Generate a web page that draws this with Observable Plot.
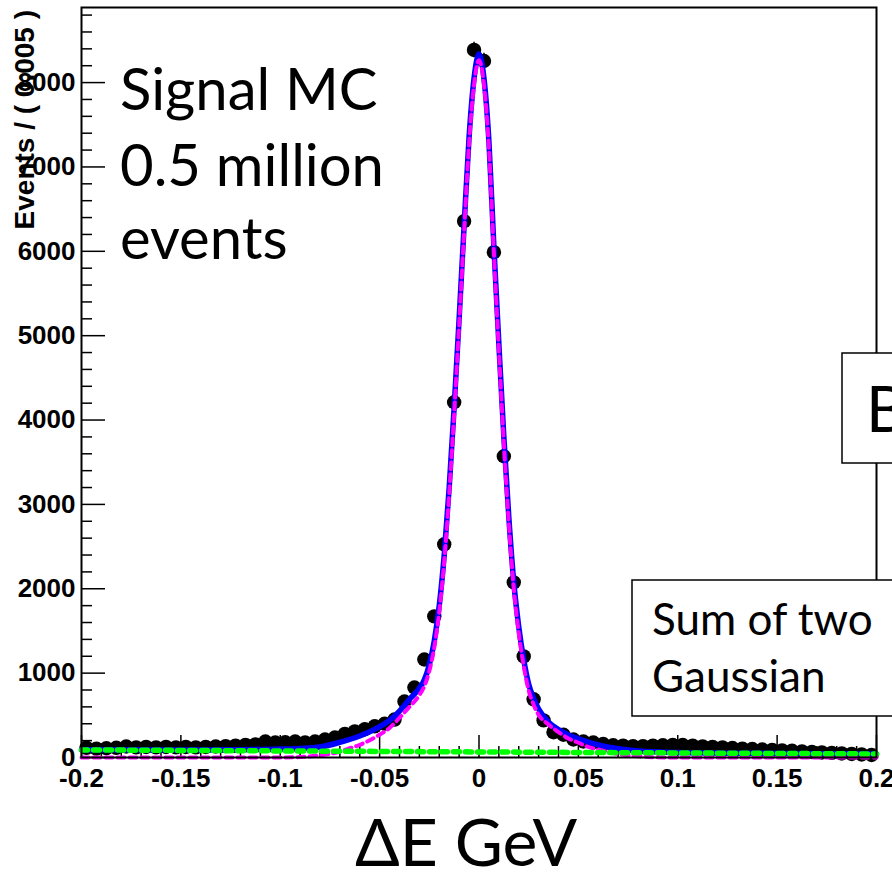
<!DOCTYPE html>
<html>
<head>
<meta charset="utf-8">
<script src="https://cdn.jsdelivr.net/npm/d3@7"></script>
<script src="https://cdn.jsdelivr.net/npm/@observablehq/plot@0.6"></script>
<style>
  html, body { margin: 0; padding: 0; background: #fff; }
  #wrap { position: relative; width: 892px; height: 872px; overflow: hidden; background: #fff; }
  #overlay { position: absolute; left: 0; top: 0; pointer-events: none; }
</style>
</head>
<body>
<div id="wrap">
  <div id="chart"></div>
  <svg id="overlay" width="892" height="872" xmlns="http://www.w3.org/2000/svg">
    <text x="34" y="10" transform="rotate(-90 34 10)" text-anchor="end" font-family="Liberation Sans, Arial, sans-serif" font-weight="bold" font-size="28" fill="#000">Events / ( 0.005 )</text>
    <text x="120" y="110" font-family="Lato, sans-serif" font-size="58" fill="#000">Signal MC</text>
    <text x="120" y="186" font-family="Lato, sans-serif" font-size="58" fill="#000">0.5 million</text>
    <text x="120" y="259" font-family="Lato, sans-serif" font-size="58" fill="#000">events</text>
    <text x="355" y="866" font-family="Lato, sans-serif" font-size="66" fill="#000">ΔE GeV</text>
    <rect x="842" y="353" width="70" height="110" fill="#fff" stroke="#000" stroke-width="1.5"></rect>
    <text x="866" y="432" font-family="Lato, sans-serif" font-size="63" fill="#000">B</text>
    <rect x="632" y="580" width="280" height="136" fill="#fff" stroke="#000" stroke-width="1.5"></rect>
    <text x="652" y="635" font-family="Lato, sans-serif" font-size="44" fill="#000">Sum of two</text>
    <text x="652" y="692" font-family="Lato, sans-serif" font-size="44" fill="#000">Gaussian</text>
  </svg>
</div>
<script>
// ---- Data ----
const binCenters = [
  -0.1975,-0.1925,-0.1875,-0.1825,-0.1775,-0.1725,-0.1675,-0.1625,-0.1575,-0.1525,
  -0.1475,-0.1425,-0.1375,-0.1325,-0.1275,-0.1225,-0.1175,-0.1125,-0.1075,-0.1025,
  -0.0975,-0.0925,-0.0875,-0.0825,-0.0775,-0.0725,-0.0675,-0.0625,-0.0575,-0.0525,
  -0.0475,-0.0425,-0.0375,-0.0325,-0.0275,-0.0225,-0.0175,-0.0125,-0.0075,-0.0025,
   0.0025, 0.0075, 0.0125, 0.0175, 0.0225, 0.0275, 0.0325, 0.0375, 0.0425, 0.0475,
   0.0525, 0.0575, 0.0625, 0.0675, 0.0725, 0.0775, 0.0825, 0.0875, 0.0925, 0.0975,
   0.1025, 0.1075, 0.1125, 0.1175, 0.1225, 0.1275, 0.1325, 0.1375, 0.1425, 0.1475,
   0.1525, 0.1575, 0.1625, 0.1675, 0.1725, 0.1775, 0.1825, 0.1875, 0.1925, 0.1975
];
const binCounts = [
  115,105,110,115,130,120,125,120,125,120,
  125,120,125,130,135,140,150,155,190,178,
  180,190,178,190,213,237,280,310,335,370,
  400,450,664,830,1162,1673,2527,4211,6358,8387,
  8256,5990,3571,2076,1198,690,440,300,270,213,
  190,178,160,145,140,135,135,140,145,150,
  148,140,132,125,120,112,105,100,95,90,
  85,80,72,65,60,55,48,42,36,30
];

// Total fit (blue, solid)
const totalFitX = [-0.2,-0.15,-0.12,-0.1,-0.09,-0.08,-0.07,-0.06,-0.055,-0.05,-0.045,-0.04,-0.035,-0.03,-0.0275,-0.025,-0.0225,-0.02,-0.0175,-0.015,-0.0125,-0.01,-0.0075,-0.005,-0.0025,0,
  0.0025,0.005,0.0075,0.01,0.0125,0.015,0.0175,0.02,0.0225,0.025,0.0275,0.03,0.035,0.04,0.045,0.05,0.06,0.07,0.08,0.1,0.15,0.2];
const totalFitY = [92,88,92,100,108,125,180,255,305,365,440,550,690,820,920,1100,1380,1800,2400,3200,4150,5200,6300,7350,8050,8340,
  8050,7300,6050,4900,3800,2850,2080,1550,1160,870,700,575,420,330,268,222,150,105,78,60,48,42];

// Signal component: sum of two Gaussians (magenta, dashed)
const signalX = [-0.2,-0.1,-0.09,-0.08,-0.07,-0.065,-0.06,-0.055,-0.05,-0.045,-0.04,-0.035,-0.03,-0.0275,-0.025,-0.0225,-0.02,-0.0175,-0.015,-0.0125,-0.01,-0.0075,-0.005,-0.0025,0,
  0.0025,0.005,0.0075,0.01,0.0125,0.015,0.0175,0.02,0.0225,0.025,0.0275,0.03,0.035,0.04,0.045,0.05,0.055,0.06,0.07,0.08,0.09,0.1,0.2];
const signalY = [0,0,5,25,70,110,150,205,270,350,470,600,740,845,1025,1305,1725,2325,3125,4075,5125,6225,7275,7975,8265,
  7975,7225,5975,4825,3725,2775,2005,1475,1085,795,625,505,390,300,225,175,125,95,42,15,2,0,0];

// Background component (green, dotted)
const bkgX = [-0.2, 0.2];
const bkgY = [90, 42];

const xMajorTicks = [-0.2,-0.15,-0.1,-0.05,0,0.05,0.1,0.15,0.2];
const xTickLabels = ["-0.2","-0.15","-0.1","-0.05","0","0.05","0.1","0.15","0.2"];
const xMinorTicks = [-0.19,-0.18,-0.17,-0.16,-0.14,-0.13,-0.12,-0.11,-0.09,-0.08,-0.07,-0.06,-0.04,-0.03,-0.02,-0.01,
  0.01,0.02,0.03,0.04,0.06,0.07,0.08,0.09,0.11,0.12,0.13,0.14,0.16,0.17,0.18,0.19];
const yMajorTicks = [0,1000,2000,3000,4000,5000,6000,7000,8000];
const yMinorTicks = [200,400,600,800,1200,1400,1600,1800,2200,2400,2600,2800,3200,3400,3600,3800,4200,4400,4600,4800,
  5200,5400,5600,5800,6200,6400,6600,6800,7200,7400,7600,7800,8200,8400,8600,8800];

// ---- Build tables ----
const points = binCenters.map((x, i) => ({x, y: binCounts[i]}));
const totalFit = totalFitX.map((x, i) => ({x, y: totalFitY[i]}));
const signal = signalX.map((x, i) => ({x, y: signalY[i]}));
const bkg = bkgX.map((x, i) => ({x, y: bkgY[i]}));

const W = 892, H = 872;
const mL = 81, mR = 16, mT = 7, mB = 115;
const frameW = W - mL - mR, frameH = H - mT - mB;
const tickFont = "Liberation Sans, Arial, Helvetica, sans-serif";

const chart = Plot.plot({
  width: W,
  height: H,
  marginLeft: mL,
  marginRight: mR,
  marginTop: mT,
  marginBottom: mB,
  style: {fontFamily: tickFont, fontSize: "26px", fontWeight: "bold", background: "#fff", color: "#000", overflow: "visible"},
  x: {domain: [-0.2, 0.2]},
  y: {domain: [0, 8890]},
  marks: [
    // ticks (inward, ROOT style)
    Plot.tickX(xMajorTicks, {x: d => d, insetTop: frameH - 22, stroke: "#000", strokeWidth: 1.5}),
    Plot.tickX(xMinorTicks, {x: d => d, insetTop: frameH - 11, stroke: "#000", strokeWidth: 1.5}),
    Plot.tickY(yMajorTicks, {y: d => d, insetRight: frameW - 24, stroke: "#000", strokeWidth: 1.5}),
    Plot.tickY(yMinorTicks, {y: d => d, insetRight: frameW - 11, stroke: "#000", strokeWidth: 1.5}),
    Plot.axisX(xMajorTicks, {tickSize: 0, tickPadding: 11, tickFormat: d => xTickLabels[xMajorTicks.indexOf(d)], fontSize: 26, fontWeight: "bold", fontFamily: tickFont, label: null}),
    Plot.axisY(yMajorTicks, {tickSize: 0, tickPadding: 6, tickFormat: d => String(d), fontSize: 26, fontWeight: "bold", fontFamily: tickFont, label: null}),
    // data points with error bars
    Plot.ruleX(points, {x: "x", y1: d => d.y - Math.sqrt(d.y), y2: d => d.y + Math.sqrt(d.y), stroke: "#000", strokeWidth: 1.5}),
    Plot.dot(points, {x: "x", y: "y", r: 7.2, fill: "#000", stroke: "none"}),
    // fit curves
    Plot.line(totalFit, {x: "x", y: "y", stroke: "#0000ff", strokeWidth: 5.5, curve: "monotone-x"}),
    Plot.line(signal, {x: "x", y: "y", stroke: "#ff00ff", strokeWidth: 4, strokeDasharray: "7,5", curve: "monotone-x"}),
    Plot.line(bkg, {x: "x", y: "y", stroke: "#00ff00", strokeWidth: 5.5, strokeDasharray: "6,6"}),
    Plot.frame({stroke: "#000", strokeWidth: 2})
  ]
});
document.getElementById("chart").appendChild(chart);
</script>
</body>
</html>
